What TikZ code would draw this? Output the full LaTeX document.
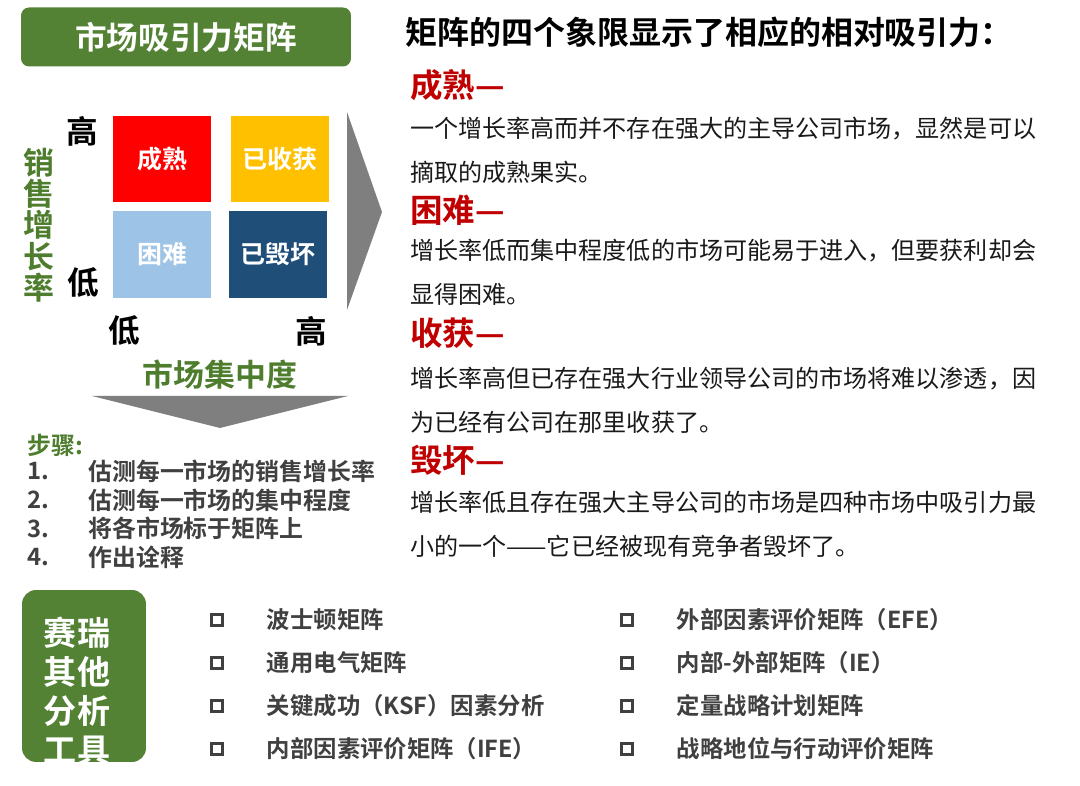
\documentclass[tikz,border=0pt]{standalone}
\usepackage{fontspec}
\setmainfont{Noto Sans CJK SC}[BoldFont=* Bold]
\usepackage{tikz}
\usetikzlibrary{positioning}
\definecolor{titlecol}{HTML}{548235}
\definecolor{axiscol}{HTML}{4E7D2E}
\definecolor{headcol}{HTML}{C00000}
\definecolor{maturecol}{HTML}{FF0000}
\definecolor{harvestcol}{HTML}{FFC000}
\definecolor{hardcol}{HTML}{9DC3E6}
\definecolor{ruincol}{HTML}{1F4E79}
\definecolor{arrowcol}{HTML}{7F7F7F}
\definecolor{stepcol}{HTML}{404040}
\definecolor{bodycol}{HTML}{1A1A1A}
\newcommand{\fsz}[2]{\fontsize{#1}{#2}\selectfont}

\begin{document}
\begin{tikzpicture}[
  x=0.02cm, y=-0.02cm,
  titlebox/.style={fill=titlecol, rounded corners=0.16cm, minimum width=6.6cm,
    minimum height=1.18cm, text=white, font=\bfseries\fsz{18}{20}},
  quad/.style={minimum width=1.96cm, minimum height=1.74cm, inner sep=0,
    text=white, font=\bfseries\fsz{14.2}{16}},
  axislabel/.style={inner sep=0, font=\bfseries\fsz{18}{20}},
  axistitle/.style={inner sep=0, text=axiscol, font=\bfseries\fsz{17.6}{17.8}},
  steptext/.style={anchor=west, inner sep=0, text=stepcol, font=\bfseries\fsz{13.6}{16}},
  quadhead/.style={anchor=west, inner sep=0, text=headcol, font=\bfseries\fsz{18.5}{20}},
  bodytext/.style={anchor=west, align=left, inner sep=0, text=bodycol, font=\fsz{13.7}{25}},
  checkbox/.style={draw=stepcol, line width=1.8pt, minimum size=0.22cm, inner sep=0},
  listtext/.style={inner sep=0, text=stepcol, font=\bfseries\fsz{13.3}{16}}
]
\fill[white] (0,0) rectangle (1080,786);
\useasboundingbox (0,0) rectangle (1080,786);

% matrix side
\node[titlebox] (title) at (186,37) {市场吸引力矩阵};

\node[quad, fill=maturecol] (mature) at (162,159) {成熟};
\node[quad, fill=harvestcol] (harvest) at (280,159) {已收获};
\node[quad, fill=hardcol] (hard) at (162,254.5) {困难};
\node[quad, fill=ruincol] (ruin) at (278,254.5) {已毁坏};

\node[axislabel] (yhigh) at (82,131) {高};
\node[axislabel] (ylow) at (83,283) {低};
\node[axislabel] (xlow) at (124,331) {低};
\node[axislabel] (xhigh) at (311,331) {高};

\node[axistitle, align=center] (ytitle) at (39,225) {销\\售\\增\\长\\率};
\node[axistitle] (xtitle) at (220,375) {市场集中度};

\fill[arrowcol] (347,112) -- (382,212) -- (347,310) -- cycle;
\fill[arrowcol] (92,396) -- (348,396) -- (220,428) -- cycle;

% steps
\node[steptext, text=axiscol] (steps) at (27,445) {步骤:};
\foreach \entry [count=\i] in {估测每一市场的销售增长率, 估测每一市场的集中程度,
    将各市场标于矩阵上, 作出诠释} {
  \node[steptext] (num\i) at (27,443+28.5*\i) {\i.};
  \node[steptext] (step\i) at (88,443+28.5*\i) {\entry};
}

% quadrant notes
\node[anchor=west, inner sep=0, font=\bfseries\fsz{18.2}{20}] (header) at (405,32)
  {矩阵的四个象限显示了相应的相对吸引力：};

\node[quadhead] (hmature) at (410,85) {成熟—};
\node[bodytext] (bmature) at (410,150)
  {一个增长率高而并不存在强大的主导公司市场，显然是可以\\摘取的成熟果实。};
\node[quadhead] (hhard) at (410,210) {困难—};
\node[bodytext] (bhard) at (410,272.5)
  {增长率低而集中程度低的市场可能易于进入，但要获利却会\\显得困难。};
\node[quadhead] (hharvest) at (410,333) {收获—};
\node[bodytext] (bharvest) at (410,400)
  {增长率高但已存在强大行业领导公司的市场将难以渗透，因\\为已经有公司在那里收获了。};
\node[quadhead] (hruin) at (410,460) {毁坏—};
\node[bodytext] (bruin) at (410,524)
  {增长率低且存在强大主导公司的市场是四种市场中吸引力最\\小的一个——它已经被现有竞争者毁坏了。};

% other tools
\node[fill=titlecol, rounded corners=0.28cm, minimum width=2.48cm,
  minimum height=3.44cm] (tools) at (84,676) {};
\begin{scope}
  \clip[rounded corners=0.28cm] (tools.south west) rectangle (tools.north east);
  \node[align=center, inner sep=0, text=white, font=\bfseries\fsz{18.8}{22.2}]
    (toolstext) at (77,691) {赛瑞\\其他\\分析\\工具};
\end{scope}

\foreach \entry [count=\i] in {波士顿矩阵, 通用电气矩阵,
    关键成功（KSF）因素分析, 内部因素评价矩阵（IFE）} {
  \node[checkbox] (lbox\i) at (217,577+43*\i) {};
  \node[listtext, right=0.85cm of lbox\i] (litem\i) {\entry};
}
\foreach \entry [count=\i] in {外部因素评价矩阵（EFE）, 内部-外部矩阵（IE）,
    定量战略计划矩阵, 战略地位与行动评价矩阵} {
  \node[checkbox] (rbox\i) at (627,577+43*\i) {};
  \node[listtext, right=0.85cm of rbox\i] (ritem\i) {\entry};
}
\end{tikzpicture}
\end{document}
